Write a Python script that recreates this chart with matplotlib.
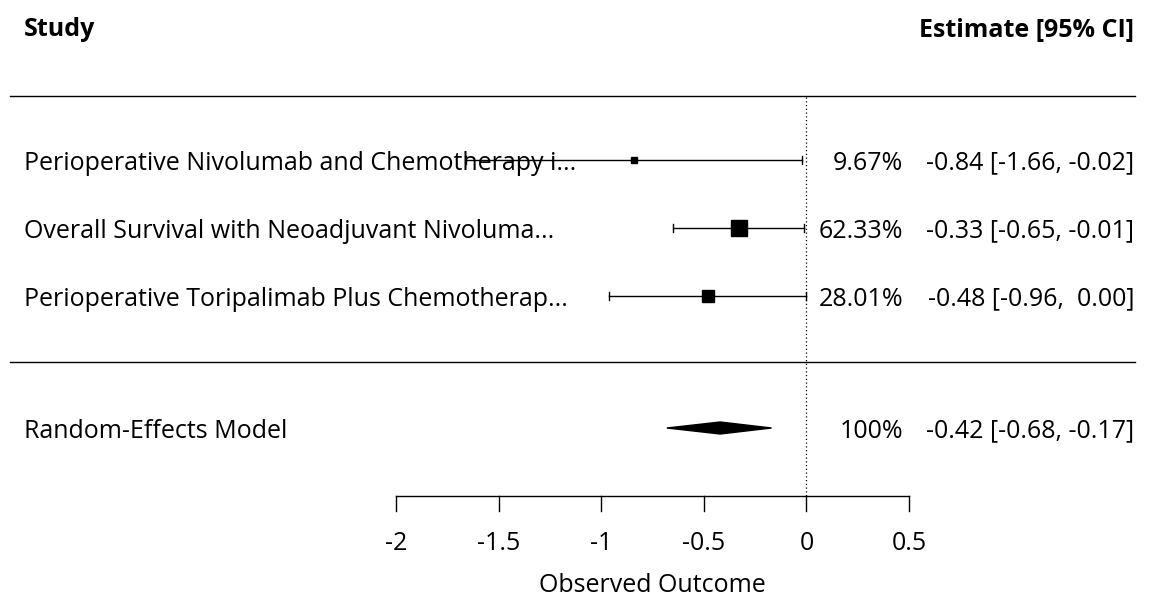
import numpy as np
import matplotlib.pyplot as plt
from matplotlib.patches import Polygon

plt.rcParams["font.family"] = ["Open Sans", "DejaVu Sans"]

# Data
studies = [
    "Perioperative Nivolumab and Chemotherapy i...",
    "Overall Survival with Neoadjuvant Nivoluma...",
    "Perioperative Toripalimab Plus Chemotherap...",
]
estimates = [-0.84, -0.33, -0.48]
ci_lower = [-1.66, -0.65, -0.96]
ci_upper = [-0.02, -0.01, 0.00]
weights = [9.67, 62.33, 28.01]
rows = [3, 2, 1]

model_label = "Random-Effects Model"
model_est = -0.42
model_lower = -0.68
model_upper = -0.17

xticks = [-2, -1.5, -1, -0.5, 0, 0.5]
xtick_labels = ["-2", "-1.5", "-1", "-0.5", "0", "0.5"]

W, H = 1149, 599
fig = plt.figure(figsize=(W / 100, H / 100), dpi=100)
ax = fig.add_axes([0, 0, 1, 1])
ax.set_axis_off()

# pixel -> data mapping (x: -2 at px 396, 0.5 at px 909; rows: row 1 at px 296, 68 px/row)
px_per_unit = (909 - 396) / 2.5
def px2x(p):
    return -2 + (p - 396) / px_per_unit

def px2y(p):
    return 1 - (p - 296) / 68.0

ax.set_xlim(px2x(0), px2x(W))
ax.set_ylim(px2y(H), px2y(0))

FS = 18
x_left = px2x(24)
x_wt = px2x(903)
x_est = px2x(1134)
txt_dy = -3 / 68.0   # nudge text down a few pixels so lines cross mid x-height

# headers and separator lines
ax.text(x_left, px2y(30), "Study", fontsize=FS, fontweight="bold", ha="left", va="center")
ax.text(x_est, px2y(30), "Estimate [95% CI]", fontsize=FS, fontweight="bold", ha="right", va="center")
ax.plot([px2x(10), px2x(1135)], [px2y(96)] * 2, color="black", lw=1.0)
ax.plot([px2x(10), px2x(1135)], [px2y(362)] * 2, color="black", lw=1.0)

# reference line at 0
ax.plot([0, 0], [px2y(97), px2y(496)], color="black", lw=0.9, ls=(0, (1, 2)))

# study rows
tick_h = 4 / 68.0
max_w = max(weights)
for name, est, lo, hi, w, r in zip(studies, estimates, ci_lower, ci_upper, weights, rows):
    ax.text(x_left, r + txt_dy, name, fontsize=FS, ha="left", va="center", zorder=1)
    ax.plot([lo, hi], [r, r], color="black", lw=1.0, zorder=3)
    ax.plot([lo, lo], [r - tick_h, r + tick_h], color="black", lw=1.0, zorder=3)
    ax.plot([hi, hi], [r - tick_h, r + tick_h], color="black", lw=1.0, zorder=3)
    size = 12 * np.sqrt(w / max_w)
    ax.plot(est, r, marker="s", color="black", markersize=size, ls="none", zorder=4)
    ax.text(x_wt, r + txt_dy, f"{w:.2f}%", fontsize=FS, ha="right", va="center")
    ax.text(x_est, r + txt_dy, f"{est:.2f} [{lo:.2f}, {hi:5.2f}]",
            fontsize=FS, ha="right", va="center")

# summary diamond
r_model = px2y(428)
dh = 6 / 68.0
diamond = Polygon([[model_lower, r_model], [model_est, r_model + dh],
                   [model_upper, r_model], [model_est, r_model - dh]],
                  closed=True, color="black")
ax.add_patch(diamond)
ax.text(x_left, r_model + txt_dy, model_label, fontsize=FS, ha="left", va="center")
ax.text(x_wt, r_model + txt_dy, "100%", fontsize=FS, ha="right", va="center")
ax.text(x_est, r_model + txt_dy, f"{model_est:.2f} [{model_lower:.2f}, {model_upper:.2f}]",
        fontsize=FS, ha="right", va="center")

# x axis
y_axis = px2y(496)
y_tick = px2y(511)
ax.plot([xticks[0], xticks[-1]], [y_axis, y_axis], color="black", lw=1.0)
for t, lab in zip(xticks, xtick_labels):
    ax.plot([t, t], [y_axis, y_tick], color="black", lw=1.0)
    ax.text(t, px2y(544), lab, fontsize=FS, ha="center", va="center")
ax.text((xticks[0] + xticks[-1]) / 2, px2y(585), "Observed Outcome",
        fontsize=FS, ha="center", va="center")

fig.savefig("out.png", dpi=100)
